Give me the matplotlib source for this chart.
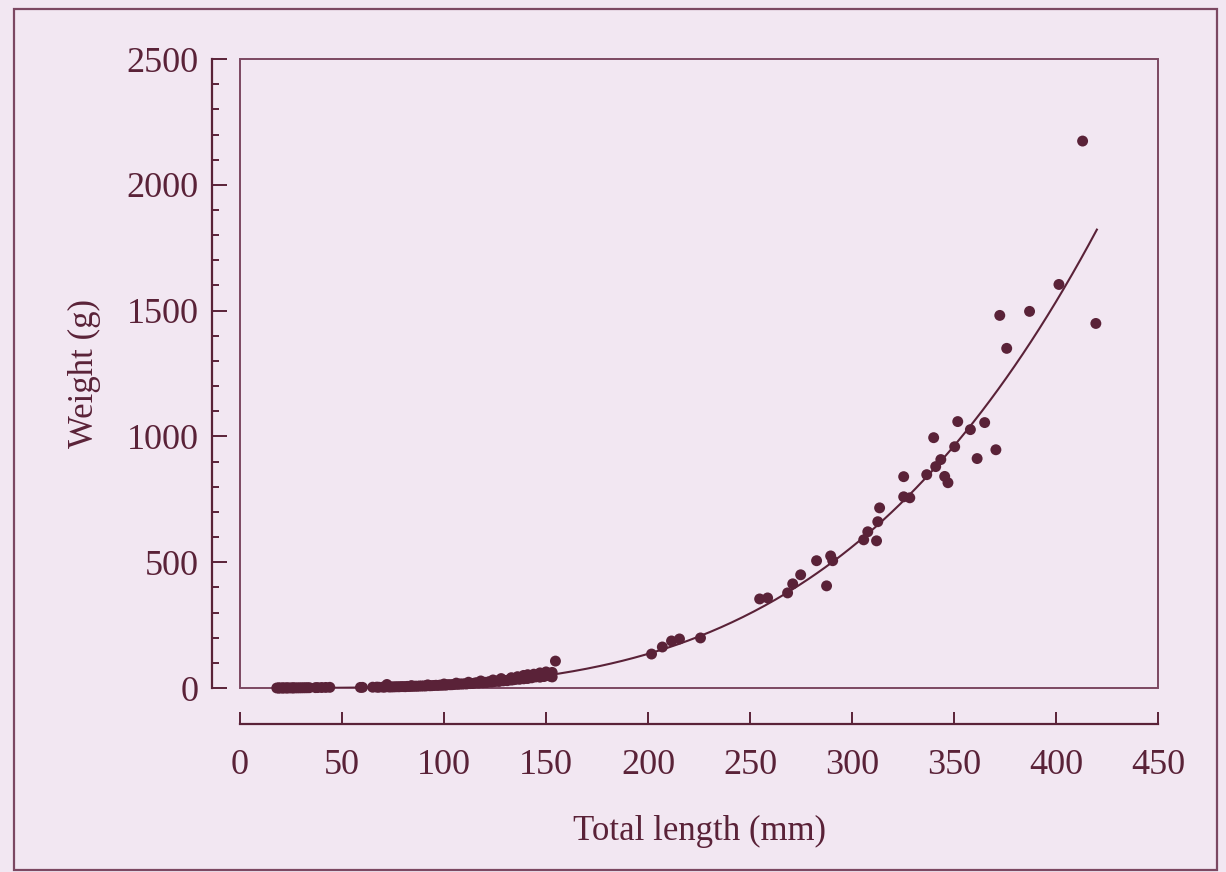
"""Length-weight relationship: scatter of fish weight vs total length with power-law fit."""

import matplotlib.pyplot as plt
import numpy as np
from matplotlib.patches import Rectangle
from matplotlib.ticker import MultipleLocator

BG = "#f2e7f2"
INK = "#5a2238"
FRAME = "#7c4862"

# --- data ---------------------------------------------------------------------
# juveniles (dense band near zero)
length_small = [18, 19, 19, 20, 21, 21, 22, 23, 23, 24, 25, 26, 26, 27, 28, 29,
                30, 31, 32, 33, 34, 37, 38, 40, 42, 44, 59, 60, 65, 67]
weight_small = [0.1, 0.1, 0.2, 0.2, 0.2, 0.3, 0.3, 0.3, 0.4, 0.4, 0.4, 0.5, 0.5,
                0.6, 0.6, 0.7, 0.8, 0.9, 1.0, 1.1, 1.2, 1.5, 1.7, 2.0, 2.3, 2.7,
                2.4, 2.6, 3.2, 3.5]

length_mid = [68, 70, 71, 72, 73, 74, 75, 76, 77, 78, 79, 80, 81, 82, 83, 84, 85,
              86, 87, 88, 89, 90, 91, 92, 93, 94, 95, 96, 97, 98, 99, 100, 101,
              102, 103, 104, 105, 106, 107, 108, 109, 110, 111, 112, 113, 114, 115,
              116, 117, 118, 119, 120, 121, 122, 123, 124, 125, 126, 127, 128, 129,
              130, 131, 132, 133, 134, 135, 136, 137, 138, 139, 140, 141, 142, 143,
              145, 146, 147, 148, 149, 150, 151, 152, 152, 153, 153,
              # second layer of the band
              84, 92, 100, 106, 112, 118, 124, 128, 133, 136, 139, 141, 144, 147,
              150, 151]
weight_mid = [3.0, 3.4, 3.6, 14.0, 4.0, 4.3, 4.5, 4.8, 5.1, 4.9, 5.6, 5.5, 5.2, 6.5,
              6.1, 6.9, 6.8, 7.4, 7.0, 8.1, 7.8, 8.3, 8.0, 9.4, 8.9, 9.2, 10.0, 10.9,
              10.2, 11.6, 11.0, 12.0, 11.4, 13.4, 12.9, 13.2, 14.2, 15.4, 14.6, 16.3,
              15.5, 16.8, 16.0, 18.5, 17.6, 18.1, 19.6, 21.0, 19.8, 22.4, 21.0, 22.7,
              21.9, 25.2, 23.8, 24.6, 26.2, 28.0, 26.0, 29.6, 28.4, 30.0, 29.1, 33.5,
              31.6, 32.8, 34.3, 37.0, 34.6, 38.5, 36.5, 39.0, 37.8, 42.8, 40.5, 44.0,
              46.5, 43.0, 48.2, 45.5, 49.6, 54.0, 58.0, 47.0, 62.0, 44.0,
              9.5, 12.5, 16.0, 19.5, 23.0, 28.0, 32.0, 37.5, 41.0, 45.0, 50.0,
              53.0, 55.0, 60.0, 64.0, 56.0]

# adults
length_large = [154.6, 201.7, 207.0, 211.5, 215.4, 225.7, 254.7, 258.6, 268.4,
                270.9, 274.8, 282.6, 287.5, 289.5, 290.5, 305.7, 307.7, 312.0,
                312.6, 313.5, 325.3, 325.3, 328.3, 336.6, 340.0, 341.0, 343.5,
                345.4, 347.0, 350.3, 351.8, 358.0, 361.3, 365.0, 370.5, 372.4,
                375.8, 387.0, 401.4, 413.0, 419.5]
weight_large = [107, 135, 163, 187, 195, 199, 354, 358, 378, 414, 450, 506, 406,
                525, 506, 589, 621, 585, 661, 716, 840, 760, 756, 848, 995, 880,
                908, 841, 816, 959, 1059, 1027, 912, 1055, 947, 1481, 1350, 1497,
                1604, 2174, 1449]

# fitted power curve W = a * L^b
FIT_A = 1.2e-6
FIT_B = 3.5
FIT_RANGE = (18, 420)

# --- plot ---------------------------------------------------------------------
plt.rcParams["font.family"] = ["Liberation Serif", "DejaVu Serif"]

fig = plt.figure(figsize=(12.26, 8.72), dpi=100, facecolor=BG)
fig.patches.append(Rectangle((14 / 1226, 2 / 872), 1203 / 1226, 861 / 872,
                             transform=fig.transFigure, fill=False,
                             edgecolor=FRAME, lw=1.6))

ax = fig.add_axes([0.1958, 0.211, 0.7488, 0.7213])
ax.set_facecolor(BG)

lengths = np.array(length_small + length_mid + length_large)
weights = np.array(weight_small + weight_mid + weight_large)
ax.scatter(lengths, weights, s=62, color=INK, edgecolors="none", zorder=3,
           clip_on=False)

xfit = np.linspace(*FIT_RANGE, 300)
ax.plot(xfit, FIT_A * xfit ** FIT_B, color=INK, lw=1.5, zorder=2)

ax.set_xlim(0, 450)
ax.set_ylim(0, 2500)

# inner box + offset axes
ax.add_patch(Rectangle((0, 0), 1, 1, transform=ax.transAxes, fill=False,
                       edgecolor=FRAME, lw=1.4, clip_on=False, zorder=1))
for side in ("top", "right"):
    ax.spines[side].set_visible(False)
ax.spines["left"].set_position(("outward", 20))
ax.spines["bottom"].set_position(("outward", 26))
for side in ("left", "bottom"):
    ax.spines[side].set_color(INK)
    ax.spines[side].set_linewidth(1.6)

ax.xaxis.set_major_locator(MultipleLocator(50))
ax.yaxis.set_major_locator(MultipleLocator(500))
ax.yaxis.set_minor_locator(MultipleLocator(100))
ax.tick_params(axis="both", which="both", direction="in", colors=INK,
               labelcolor=INK, labelsize=26, width=1.4)
ax.tick_params(axis="x", which="major", length=9, pad=18)
ax.tick_params(axis="y", which="major", length=11, pad=10)
ax.tick_params(axis="y", which="minor", length=5)

ax.set_xlabel("Total length (mm)", fontsize=25, color=INK, labelpad=24)
ax.set_ylabel("Weight (g)", fontsize=25, color=INK, labelpad=18)

fig.savefig("out.png", dpi=100, facecolor=BG)
